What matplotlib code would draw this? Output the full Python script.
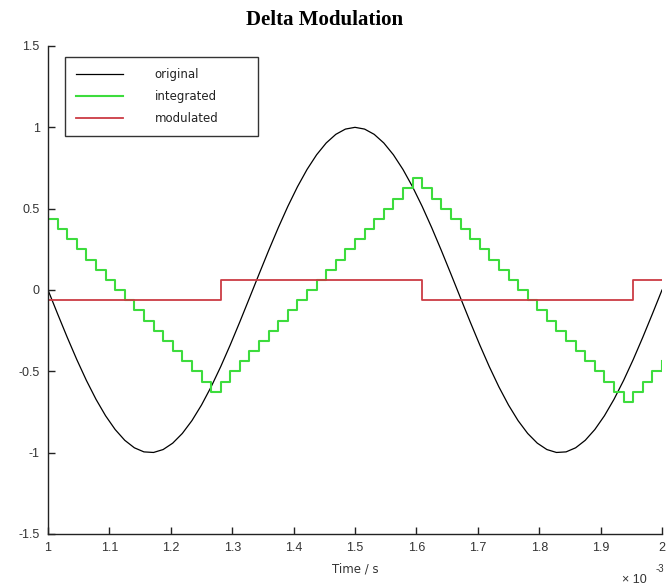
import numpy as np
import matplotlib
matplotlib.use("Agg")
import matplotlib.pyplot as plt

# ---- data (time in ms, i.e. x 10^-3 s) ----
t_start, t_stop, n_samples = 1.0, 2.0, 65
time_ms = np.linspace(t_start, t_stop, n_samples)

original = [
    0.0, -0.1467, -0.2903, -0.4276, -0.5556, -0.6716, -0.7730, -0.8577,
    -0.9239, -0.9700, -0.9952, -0.9988, -0.9808, -0.9415, -0.8819, -0.8032,
    -0.7071, -0.5957, -0.4714, -0.3369, -0.1951, -0.0491, 0.0980, 0.2430,
    0.3827, 0.5141, 0.6344, 0.7410, 0.8315, 0.9040, 0.9569, 0.9892,
    1.0, 0.9892, 0.9569, 0.9040, 0.8315, 0.7410, 0.6344, 0.5141,
    0.3827, 0.2430, 0.0980, -0.0491, -0.1951, -0.3369, -0.4714, -0.5957,
    -0.7071, -0.8032, -0.8819, -0.9415, -0.9808, -0.9988, -0.9952, -0.9700,
    -0.9239, -0.8577, -0.7730, -0.6716, -0.5556, -0.4276, -0.2903, -0.1467,
    0.0,
]

integrated = [
    0.4375, 0.375, 0.3125, 0.25, 0.1875, 0.125, 0.0625, 0.0,
    -0.0625, -0.125, -0.1875, -0.25, -0.3125, -0.375, -0.4375, -0.5,
    -0.5625, -0.625, -0.5625, -0.5, -0.4375, -0.375, -0.3125, -0.25,
    -0.1875, -0.125, -0.0625, 0.0, 0.0625, 0.125, 0.1875, 0.25,
    0.3125, 0.375, 0.4375, 0.5, 0.5625, 0.625, 0.6875, 0.625,
    0.5625, 0.5, 0.4375, 0.375, 0.3125, 0.25, 0.1875, 0.125,
    0.0625, 0.0, -0.0625, -0.125, -0.1875, -0.25, -0.3125, -0.375,
    -0.4375, -0.5, -0.5625, -0.625, -0.6875, -0.625, -0.5625, -0.5,
    -0.4375,
]

modulated = (
    [-0.0625] * 18 + [0.0625] * 21 + [-0.0625] * 22 + [0.0625] * 4
)

x_ticks = [1, 1.1, 1.2, 1.3, 1.4, 1.5, 1.6, 1.7, 1.8, 1.9, 2]
x_tick_labels = ["1", "1.1", "1.2", "1.3", "1.4", "1.5", "1.6", "1.7", "1.8", "1.9", "2"]
y_ticks = [-1.5, -1, -0.5, 0, 0.5, 1, 1.5]
y_tick_labels = ["-1.5", "-1", "-0.5", "0", "0.5", "1", "1.5"]
series_labels = ["original", "integrated", "modulated"]

# ---- figure ----
W, H = 666, 587
fig = plt.figure(figsize=(W / 100, H / 100), dpi=100)
fig.patch.set_facecolor("white")
ax_l, ax_r, ax_t, ax_b = 48, 662, 46, 534
ax = fig.add_axes([ax_l / W, (H - ax_b) / H, (ax_r - ax_l) / W, (ax_b - ax_t) / H])

ax.plot(time_ms, original, color="black", lw=0.9, label=series_labels[0])
ax.step(time_ms, integrated, where="post", color="#3ddc3d", lw=1.5, label=series_labels[1])
ax.step(time_ms, modulated, where="post", color="#cc3b44", lw=1.3, label=series_labels[2])

ax.set_xlim(1, 2)
ax.set_ylim(-1.5, 1.5)
ax.set_xticks(x_ticks)
ax.set_xticklabels(x_tick_labels)
ax.set_yticks(y_ticks)
ax.set_yticklabels(y_tick_labels)

for s in ["top", "right"]:
    ax.spines[s].set_visible(False)
for s in ["left", "bottom"]:
    ax.spines[s].set_linewidth(1.0)
    ax.spines[s].set_color("#222222")

ax.tick_params(direction="in", length=5, width=1.0, colors="#222222",
               labelsize=9, labelcolor="#333333", pad=6)
for lab in ax.get_xticklabels() + ax.get_yticklabels():
    lab.set_family("Liberation Sans")

ax.set_xlabel("Time / s", family="DejaVu Sans", fontsize=8.5, color="#333333", labelpad=6)

fig.text(325 / W, 1 - 20 / H, "Delta Modulation", family="Liberation Serif",
         weight="bold", fontsize=15, ha="center", va="center", color="black")

fig.text(622 / W, 1 - 580 / H, "\u00d7 10", family="Liberation Sans",
         fontsize=9, ha="left", va="center", color="#333333")
fig.text(656 / W, 1 - 569 / H, "-3", family="Liberation Sans",
         fontsize=7, ha="left", va="center", color="#333333")

aw, ah = ax_r - ax_l, ax_b - ax_t
leg_x0, leg_x1, leg_y0, leg_y1 = 65, 258, 57, 137
leg = ax.legend(loc="upper left",
                bbox_to_anchor=((leg_x0 - ax_l) / aw, (ax_b - leg_y1) / ah,
                                (leg_x1 - leg_x0) / aw, (leg_y1 - leg_y0) / ah),
                mode="expand", borderaxespad=0, frameon=True, fancybox=False,
                shadow=False, handlelength=4.0, handletextpad=2.65, borderpad=0.95,
                labelspacing=0.76, prop={"family": "DejaVu Sans", "size": 8.5})
leg.get_frame().set_edgecolor("black")
leg.get_frame().set_linewidth(1.0)
for txt in leg.get_texts():
    txt.set_color("#222222")

fig.savefig("out.png", dpi=100, facecolor="white")
